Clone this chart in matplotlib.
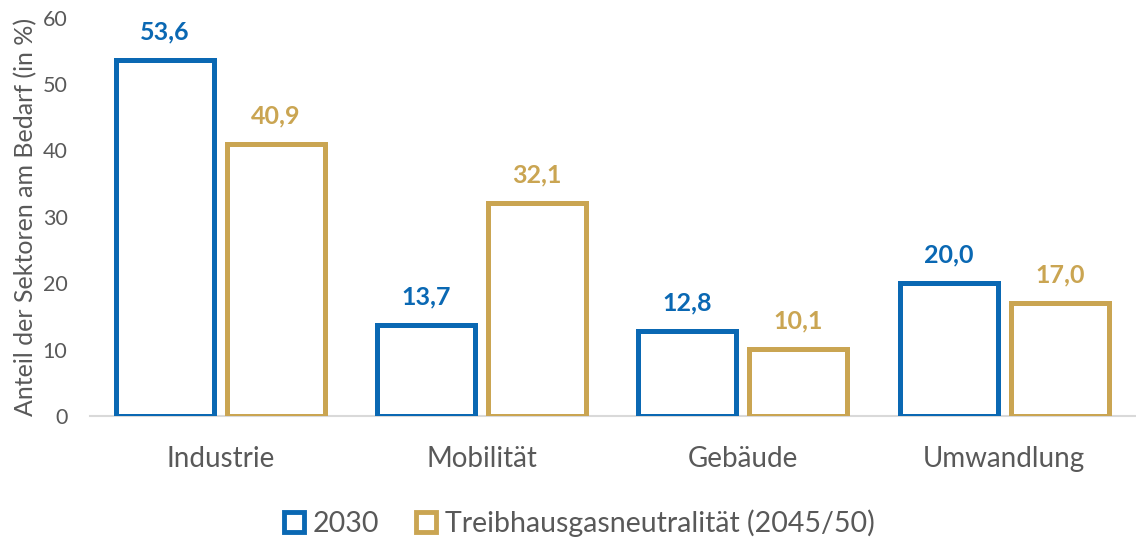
import numpy as np
import matplotlib.pyplot as plt
from matplotlib.patches import Patch

categories = ["Industrie", "Mobilität", "Gebäude", "Umwandlung"]
values_2030 = [53.6, 13.7, 12.8, 20.0]
values_thg = [40.9, 32.1, 10.1, 17.0]
series_names = ["2030", "Treibhausgasneutralität (2045/50)"]

blue = "#0a68b3"
gold = "#caa552"
grey = "#595959"

plt.rcParams["font.family"] = ["Lato", "DejaVu Sans"]

fig = plt.figure(figsize=(11.36, 5.38), dpi=100)
ax = fig.add_axes([0.079, 0.227, 0.92, 0.74])

x = np.arange(len(categories))
w = 0.375
gap = 0.05
lw = 3.6

for i, (vals, col) in enumerate([(values_2030, blue), (values_thg, gold)]):
    pos = x + (i - 0.5) * (w + gap)
    ax.bar(pos, vals, width=w, facecolor="white", edgecolor=col, linewidth=lw,
           joinstyle="miter", zorder=3)
    for p, v in zip(pos, vals):
        ax.annotate(f"{v:.1f}".replace(".", ","), (p, v), xytext=(0, 12),
                    textcoords="offset points", ha="center", va="bottom",
                    color=col, fontsize=18, fontweight="bold")

ax.set_xlim(-0.5, len(categories) - 0.5)
ax.set_ylim(0, 60)
ax.set_yticks(range(0, 61, 10))
ax.set_xticks(x)
ax.set_xticklabels(categories)
ax.tick_params(axis="x", length=0, pad=22, labelsize=20, labelcolor=grey)
ax.tick_params(axis="y", length=0, pad=16, labelsize=15.5, labelcolor=grey)
ax.set_ylabel("Anteil der Sektoren am Bedarf (in %)", fontsize=18, color=grey, labelpad=4)

for s in ["top", "right", "left"]:
    ax.spines[s].set_visible(False)
ax.spines["bottom"].set_color("#d9d9d9")
ax.spines["bottom"].set_linewidth(1.5)
ax.spines["bottom"].set_zorder(1)

handles = [Patch(facecolor="white", edgecolor=blue, linewidth=3.5),
           Patch(facecolor="white", edgecolor=gold, linewidth=3.5)]
fig.legend(handles, series_names, loc="lower center", bbox_to_anchor=(0.51, -0.045),
           ncol=2, frameon=False, fontsize=20.5, labelcolor=grey,
           handlelength=0.7, handleheight=0.7, handletextpad=0.3, columnspacing=1.3)

fig.savefig("out.png", dpi=100)
